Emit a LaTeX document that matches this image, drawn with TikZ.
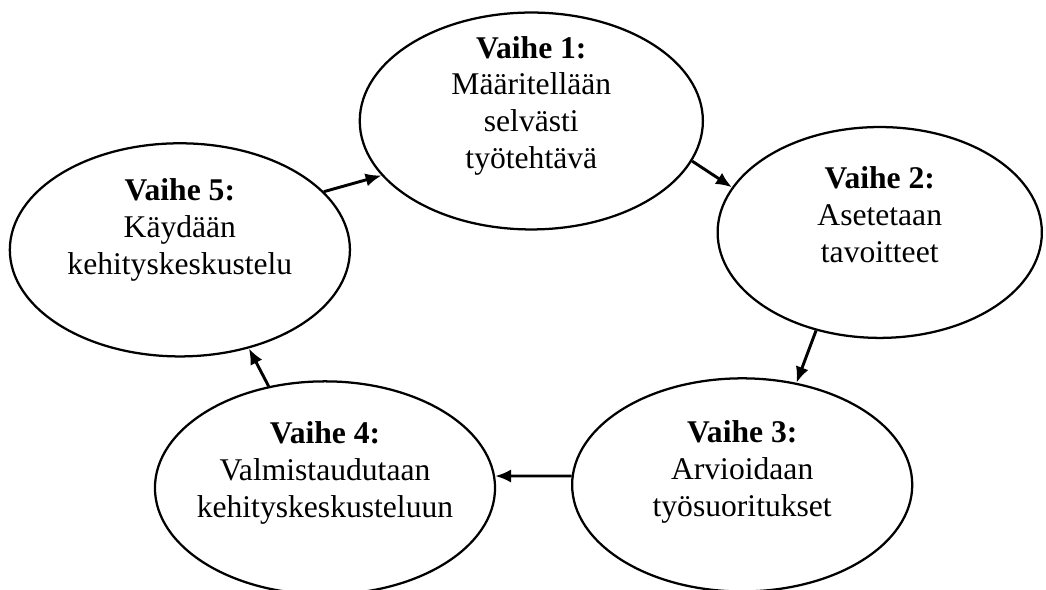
\documentclass[tikz,border=0pt]{standalone}
\usepackage{fontspec}
\setmainfont{Liberation Serif}
\usepackage{tikz}
\usetikzlibrary{calc,shapes.geometric,arrows.meta,positioning}

\begin{document}
\begin{tikzpicture}[font=\fontsize{11.9}{13.9}\selectfont]

\tikzset{stage/.style={shape=ellipse,draw=black,line width=0.85pt,inner sep=0pt,minimum width=4.5cm,minimum height=2.82cm},
stagetext/.style={align=center,inner sep=0pt},
flow/.style={line width=1.1pt,-{Latex[length=6pt,width=5pt]}}}

\useasboundingbox (0,0) rectangle (13.84,7.806);

% Stages
\node (v1) [stage,minimum width=4.54cm,minimum height=2.87cm] at (7.03,6.205) {};
\node (v2) [stage,minimum width=4.29cm,minimum height=2.79cm] at (11.64,4.73) {};
\node (v3) [stage] at (9.82,1.39) {};
\node (v4) [stage] at (4.30,1.35) {};
\node (v5) [stage] at (2.38,4.50) {};

% Stage texts
\node (t1) [stagetext] at ($(v1) + (0,0.2)$) {\textbf{Vaihe 1:}\\ Määritellään\\ selvästi\\ työtehtävä};
\node (t2) [stagetext] at ($(v2) + (0,0.24)$) {\textbf{Vaihe 2:}\\ Asetetaan\\ tavoitteet};
\node (t3) [stagetext] at ($(v3) + (0,0.17)$) {\textbf{Vaihe 3:}\\ Arvioidaan\\ työsuoritukset};
\node (t4) [stagetext] at ($(v4) + (0,0.2)$) {\textbf{Vaihe 4:}\\ Valmistaudutaan\\ kehityskeskusteluun};
\node (t5) [stagetext] at ($(v5) + (0,0.26)$) {\textbf{Vaihe 5:}\\ Käydään\\ kehityskeskustelu};

% Cycle arrows
\foreach \a/\p/\b/\q in {5/22/1/200, 1/346/2/163, 2/237/3/62, 3/177/4/4, 4/119/5/305}
  \draw[flow] (v\a.\p) -- (v\b.\q);

\end{tikzpicture}
\end{document}
